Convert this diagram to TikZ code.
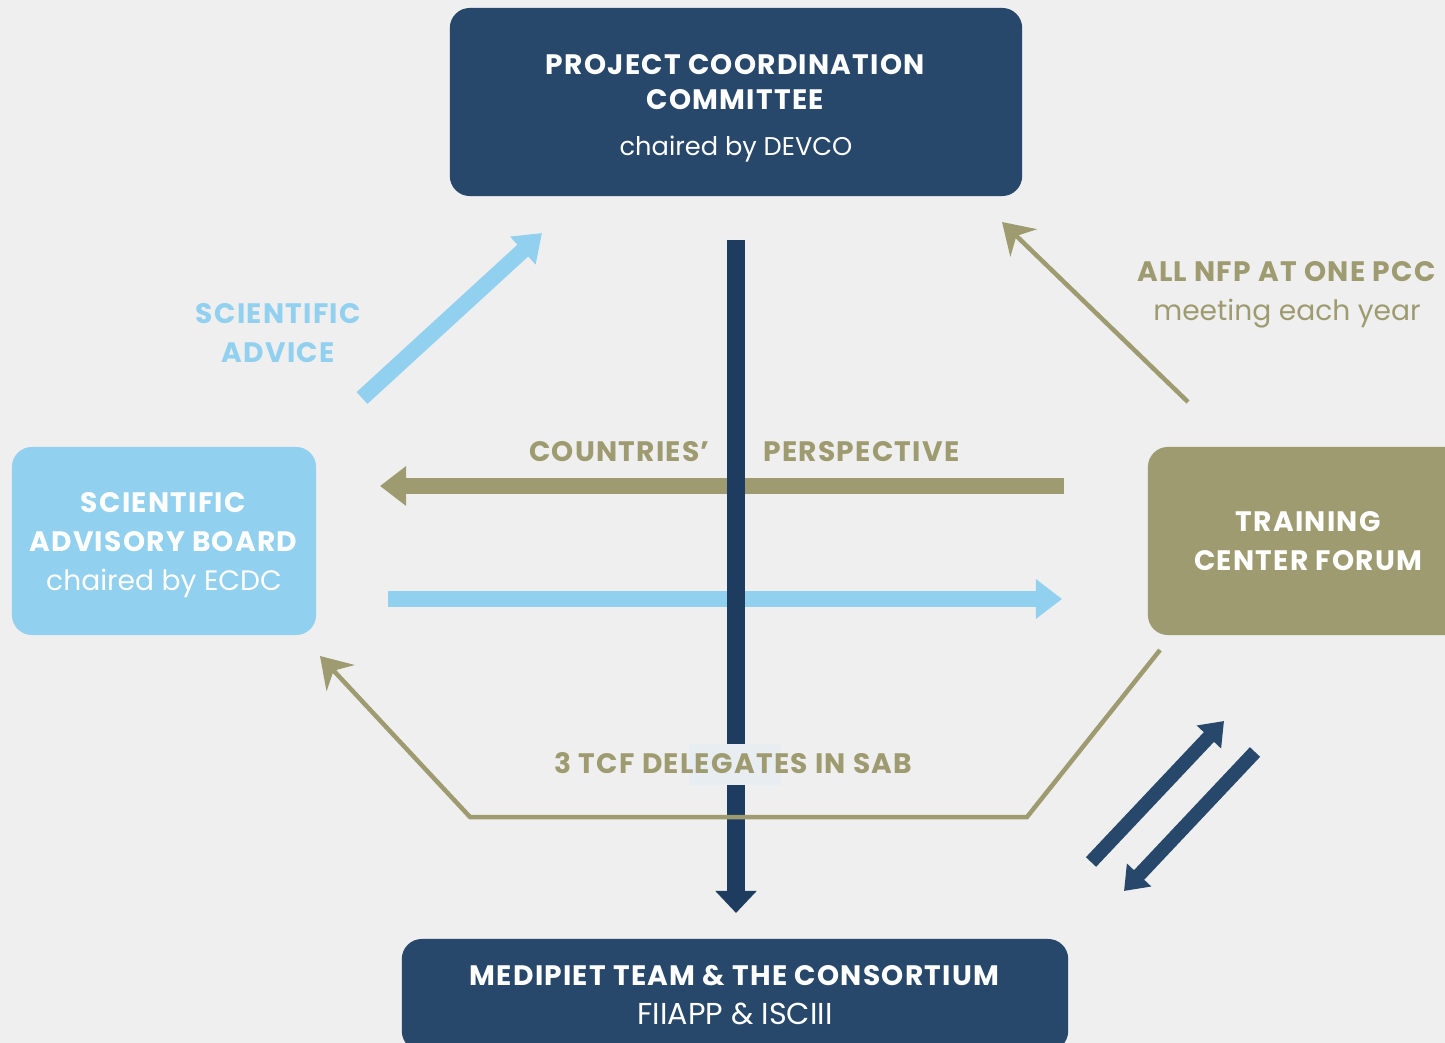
\documentclass[tikz,border=0pt]{standalone}
\usepackage{fontspec}
\setmainfont{Poppins}[BoldFeatures={LetterSpace=4.5}]
\usepackage{xcolor}
\usetikzlibrary{arrows.meta}

\definecolor{pccblue}{HTML}{27476B}
\definecolor{lineblue}{HTML}{1D3C60}
\definecolor{sky}{HTML}{92D0F0}
\definecolor{olive}{HTML}{9E9B70}
\definecolor{paper}{HTML}{EFEFEF}
\definecolor{haze}{HTML}{E7EDF1}

\tikzset{
  board/.style={rounded corners=0.2cm, inner sep=0pt, text=white, align=center,
    font=\fontsize{8}{11}\selectfont},
  boardtext/.style={text=white, align=center, font=\fontsize{8}{11}\selectfont},
  fat/.style={line width=0.16cm},
  slim/.style={line width=0.045cm, olive,
    -{Stealth[length=0.3cm,width=0.38cm,inset=0.1cm]}},
  tag/.style={align=center, font=\fontsize{8}{11}\selectfont},
}

\begin{document}
\begin{tikzpicture}[x=0.01cm,y=-0.01cm]
  \fill[paper] (0,0) rectangle (1445,1043);
  \useasboundingbox (0,0) rectangle (1445,1043);

  %% the four bodies
  \node[board, fill=pccblue, minimum width=5.72cm, minimum height=1.88cm,
    label={[boardtext, yshift=-0.06cm]center:{\textbf{PROJECT COORDINATION}\\[-1pt]\textbf{COMMITTEE}\\[2pt]{\fontsize{7.3}{11}\selectfont chaired by DEVCO}}}]
    (pcc) at (736,102) {};
  \node[board, fill=sky, minimum width=3.04cm, minimum height=1.88cm,
    label={[boardtext, yshift=-0.04cm]center:{\textbf{SCIENTIFIC}\\\textbf{ADVISORY BOARD}\\chaired by ECDC}}]
    (sab) at (164,541) {};
  \node[board, fill=olive, minimum width=3.22cm, minimum height=1.88cm] (tcf) at (1309,541)
    {\textbf{TRAINING}\\\textbf{CENTER FORUM}};
  \node[board, fill=pccblue, minimum width=6.66cm, minimum height=1.12cm] (team) at (735,995)
    {\textbf{MEDIPIET TEAM \& THE CONSORTIUM}\\{\fontsize{8.6}{11}\selectfont FIIAPP \& ISCIII}};

  %% arrow ends
  \coordinate (down-from) at (736,240);
  \coordinate (down-to) at (736,913);
  \coordinate (advice-from) at (362,398);
  \coordinate (advice-to) at (542,233);
  \coordinate (nfp-from) at (1188,402);
  \coordinate (nfp-to) at (1002,222);
  \coordinate (persp-from) at (1064,486);
  \coordinate (persp-to) at (380,486);
  \coordinate (sci-from) at (388,599);
  \coordinate (sci-to) at (1062,599);
  \coordinate (dlg-from) at (1160,650);
  \coordinate (dlg-a) at (1027,817);
  \coordinate (dlg-b) at (470,817);
  \coordinate (dlg-to) at (320,656);
  \coordinate (up-from) at (1091,862);
  \coordinate (up-to) at (1224,721);
  \coordinate (back-from) at (1255,752);
  \coordinate (back-to) at (1124,891);

  %% horizontal exchanges
  \draw[fat, olive, -{Triangle[length=0.26cm,width=0.38cm]}] (persp-from) -- (persp-to);
  \draw[fat, sky, -{Triangle[length=0.26cm,width=0.38cm]}] (sci-from) -- (sci-to);

  %% line of command
  \draw[line width=0.18cm, lineblue, -{Triangle[length=0.22cm,width=0.4cm]}] (down-from) -- (down-to);
  \fill[haze] (689,744) rectangle (781,785);

  %% advice and forum links
  \draw[fat, sky, -{Triangle[length=0.26cm,width=0.36cm]}] (advice-from) -- (advice-to);
  \draw[slim] (nfp-from) -- (nfp-to);
  \draw[slim] (dlg-from) -- (dlg-a) -- (dlg-b) -- (dlg-to);
  \draw[line width=0.14cm, pccblue, -{Triangle[length=0.22cm,width=0.32cm]}] (up-from) -- (up-to);
  \draw[line width=0.14cm, pccblue, -{Triangle[length=0.22cm,width=0.32cm]}] (back-from) -- (back-to);

  %% labels
  \node[tag, sky] (advice) at (279,333) {\textbf{SCIENTIFIC}\\\textbf{ADVICE}};
  \node[tag, olive] (nfp) at (1287,295) {\textbf{ALL NFP AT ONE PCC}\\meeting each year};
  \node[tag, olive] (countries) at (620,452) {\textbf{COUNTRIES'}};
  \node[tag, olive] (persp) at (862,452) {\textbf{PERSPECTIVE}};
  \node[tag, olive] (dlg) at (734,763) {\textbf{3 TCF DELEGATES IN SAB}};
\end{tikzpicture}
\end{document}
